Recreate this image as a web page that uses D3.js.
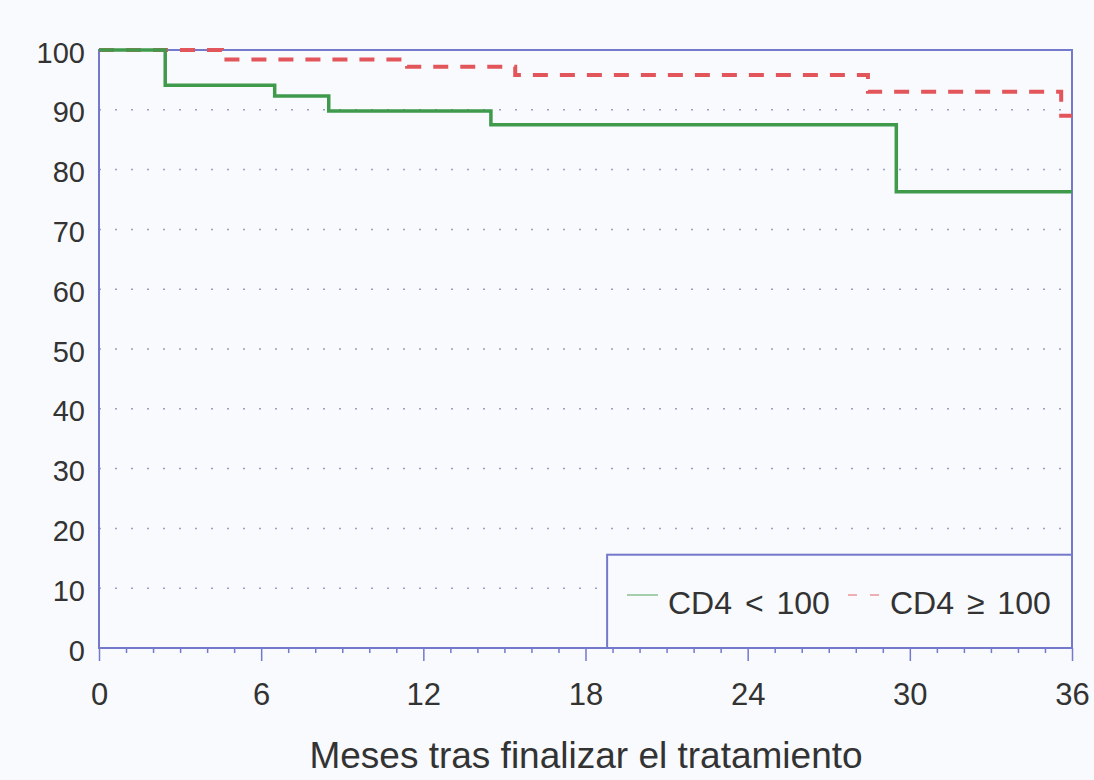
<!DOCTYPE html>
<html>
<head>
<meta charset="utf-8">
<script src="https://cdn.jsdelivr.net/npm/d3@7"></script>
<style>
  body { margin: 0; background: #f9fafd; }
  text { font-family: "Liberation Sans", Arial, sans-serif; fill: #333; }
</style>
</head>
<body>
<svg id="chart"></svg>
<script>
WIDTH = 1094;
HEIGHT = 780;
MARGIN = { top: 50, right: 22, bottom: 132, left: 99 };

// survival curves (months, % free of event)
lowMonths = [0, 2.45, 6.5, 8.5, 14.5, 29.5, 36];
lowValues = [100, 94.1, 92.3, 89.8, 87.5, 76.3, 76.3];
highMonths = [0, 4.55, 11.4, 15.4, 28.45, 35.6, 36];
highValues = [100, 98.4, 97.2, 95.8, 93.0, 89.0, 89.0];

xTicks = [0, 6, 12, 18, 24, 30, 36];
yTicks = [0, 10, 20, 30, 40, 50, 60, 70, 80, 90, 100];
seriesLabels = ["CD4 < 100", "CD4 \u2265 100"];
xTitle = "Meses tras finalizar el tratamiento";

FRAME = "#7479cc";
GREEN = "#3f9a4c";
RED = "#e2555a";

function buildChart() {
    var svg = d3.select("#chart").attr("width", WIDTH).attr("height", HEIGHT);
    var width = WIDTH - MARGIN.left - MARGIN.right;
    var height = HEIGHT - MARGIN.top - MARGIN.bottom;
    var g = svg.append("g")
        .attr("transform", "translate(" + MARGIN.left + "," + MARGIN.top + ")");

    var x = d3.scaleLinear().domain([0, 36]).range([0, width]);
    var y = d3.scaleLinear().domain([0, 100]).range([height, 0]);

    // dotted grid
    g.selectAll(".grid")
        .data(yTicks.filter(function(d) { return d > 0 && d < 100; }))
        .enter().append("line")
        .attr("x1", 0).attr("x2", width)
        .attr("y1", function(d) { return y(d); })
        .attr("y2", function(d) { return y(d); })
        .attr("stroke", "#9a9fc0")
        .attr("stroke-width", 1.5)
        .attr("stroke-dasharray", "2,14");

    // x axis minor + major ticks
    var xAxis = g.append("g")
        .attr("transform", "translate(0," + height + ")")
        .call(d3.axisBottom(x).tickValues(d3.range(0, 37)).tickSize(5).tickFormat(""));
    xAxis.selectAll("line").attr("stroke", FRAME).attr("stroke-width", 1.5)
        .filter(function(d) { return d % 6 === 0; }).attr("y2", 13);
    xAxis.select(".domain").remove();

    g.append("g")
        .attr("transform", "translate(0," + height + ")")
        .call(d3.axisBottom(x).tickValues(xTicks).tickSize(0).tickPadding(35))
        .call(function(a) { a.select(".domain").remove(); })
        .selectAll("text")
        .style("font-size", "31px")
        .style("font-family", "Liberation Sans, Arial, sans-serif")
        .attr("fill", "#333");

    g.append("g")
        .call(d3.axisLeft(y).tickValues(yTicks).tickSize(0).tickPadding(14))
        .call(function(a) { a.select(".domain").remove(); })
        .selectAll("text")
        .attr("dy", "0.42em")
        .style("font-size", "29px")
        .style("font-family", "Liberation Sans, Arial, sans-serif")
        .attr("fill", "#333");

    // plot frame
    g.append("rect")
        .attr("width", width).attr("height", height)
        .attr("fill", "none")
        .attr("stroke", FRAME)
        .attr("stroke-width", 2);

    var line = d3.line()
        .x(function(d) { return x(d[0]); })
        .y(function(d) { return y(d[1]); })
        .curve(d3.curveStepAfter);

    g.append("path")
        .datum(d3.zip(highMonths, highValues))
        .attr("d", line)
        .attr("fill", "none")
        .attr("stroke", RED)
        .attr("stroke-width", 4)
        .attr("stroke-dasharray", "15,12");

    g.append("path")
        .datum(d3.zip(lowMonths, lowValues))
        .attr("d", line)
        .attr("fill", "none")
        .attr("stroke", GREEN)
        .attr("stroke-width", 3.5);

    // legend box
    var legX = x(18.8), legY = y(15.6);
    g.append("rect")
        .attr("x", legX).attr("y", legY)
        .attr("width", width - legX).attr("height", height - legY)
        .attr("fill", "#f9fafd")
        .attr("stroke", FRAME)
        .attr("stroke-width", 2);

    var ly = 595 - MARGIN.top;
    g.append("line")
        .attr("x1", 627 - MARGIN.left).attr("x2", 658 - MARGIN.left)
        .attr("y1", ly).attr("y2", ly)
        .attr("stroke", GREEN).attr("stroke-width", 1.5).attr("opacity", 0.6);
    g.append("text")
        .attr("x", 668 - MARGIN.left).attr("y", ly + 19)
        .style("font-size", "32px")
        .style("word-spacing", "4px")
        .text(seriesLabels[0]);
    g.append("line")
        .attr("x1", 848 - MARGIN.left).attr("x2", 883 - MARGIN.left)
        .attr("y1", ly).attr("y2", ly)
        .attr("stroke", RED).attr("stroke-width", 1.5).attr("opacity", 0.6)
        .attr("stroke-dasharray", "9,13");
    g.append("text")
        .attr("x", 890 - MARGIN.left).attr("y", ly + 19)
        .style("font-size", "32px")
        .style("word-spacing", "4px")
        .text(seriesLabels[1]);

    svg.append("text")
        .attr("x", 586).attr("y", 768)
        .attr("text-anchor", "middle")
        .style("font-size", "37px")
        .text(xTitle);
}

buildChart();
</script>
</body>
</html>
